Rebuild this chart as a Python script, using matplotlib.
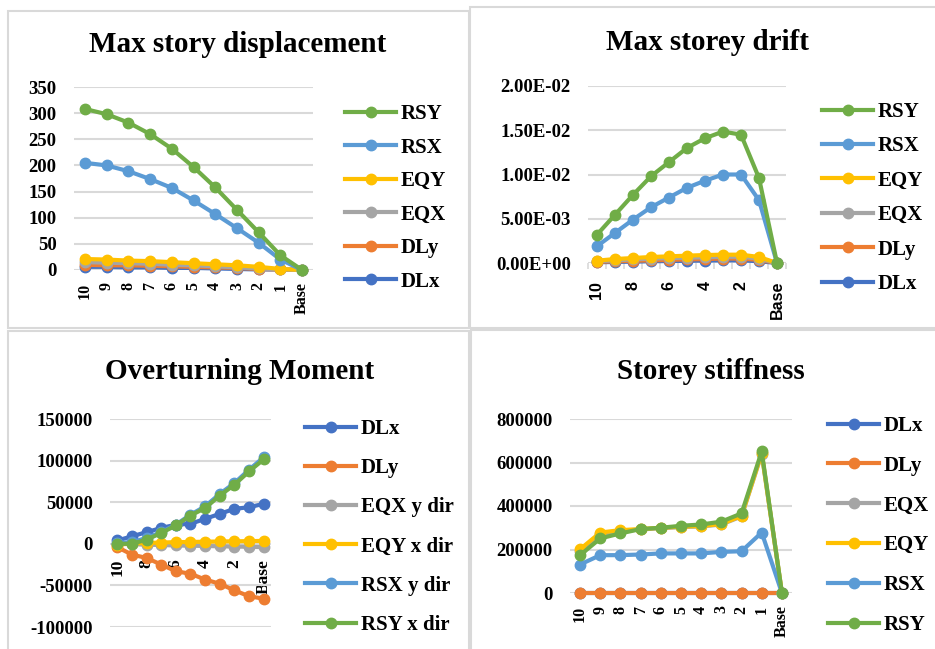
import matplotlib
matplotlib.use("Agg")
import matplotlib.pyplot as plt
from matplotlib.lines import Line2D
from matplotlib.patches import Rectangle
from matplotlib.ticker import FuncFormatter

plt.rcParams['font.family'] = ['Liberation Serif', 'DejaVu Serif']
plt.rcParams['font.weight'] = 'bold'
plt.rcParams['axes.unicode_minus'] = False

W, H = 935, 649

# storeys, top to base
cats = ['10', '9', '8', '7', '6', '5', '4', '3', '2', '1', 'Base']

# Max story displacement
disp_rsy = [308, 298, 282, 260, 232, 197, 158, 115, 72, 28, 0]
disp_rsx = [205, 200, 189, 174, 157, 133, 107, 80, 52, 20, 0]
disp_eqy = [21, 20, 18, 17, 15, 13, 11, 9, 6, 2, 0]
disp_eqx = [15, 14, 13, 12, 10, 9, 7, 5, 3, 1, 0]
disp_dly = [10, 9, 9, 8, 7, 6, 5, 4, 2, 1, 0]
disp_dlx = [6, 6, 5, 5, 4, 4, 3, 2, 1, 1, 0]

# Max storey drift
drift_rsy = [0.0032, 0.00545, 0.0077, 0.0098, 0.0114, 0.0130, 0.0141, 0.01485, 0.0145, 0.0096, 0]
drift_rsx = [0.0019, 0.0034, 0.0049, 0.0063, 0.0074, 0.0085, 0.0093, 0.0100, 0.0100, 0.0071, 0]
drift_eqy = [0.00026, 0.00045, 0.00056, 0.00068, 0.00075, 0.00083, 0.0009, 0.00094, 0.00094, 0.00068, 0]
drift_eqx = [0.0002, 0.0003, 0.0004, 0.0005, 0.00055, 0.0006, 0.00065, 0.0007, 0.0007, 0.0005, 0]
drift_dly = [0.00012, 0.0002, 0.00025, 0.0003, 0.00035, 0.0004, 0.00045, 0.0005, 0.0005, 0.00035, 0]
drift_dlx = [0.00008, 0.00012, 0.00015, 0.0002, 0.00022, 0.00025, 0.00028, 0.0003, 0.0003, 0.0002, 0]

# Overturning moment
ot_dlx = [4000, 9000, 14000, 19000, 23000, 24000, 30000, 36000, 42000, 44000, 48000]
ot_dly = [-4000, -13000, -17000, -25000, -33000, -36000, -43000, -48000, -56000, -63000, -66000]
ot_eqx = [0, -500, -1000, -1500, -2000, -2300, -2600, -3000, -3300, -3600, -4000]
ot_eqy = [-1000, 500, 1000, 1500, 2000, 2200, 2500, 2800, 3000, 3200, 3500]
ot_rsx = [1000, 2000, 7000, 14000, 23000, 35000, 45000, 60000, 73000, 89000, 104000]
ot_rsy = [0, 0, 5000, 13000, 22000, 34000, 43000, 58000, 71000, 87000, 101500]

# Storey stiffness
st_dlx = [0, 0, 0, 0, 0, 0, 0, 0, 0, 0, 0]
st_dly = [0, 0, 0, 0, 0, 0, 0, 0, 0, 0, 0]
st_eqx = [195000, 270000, 285000, 292000, 298000, 303000, 306000, 315000, 352000, 640000, 0]
st_eqy = [201000, 278000, 289000, 294000, 300000, 305000, 308000, 317000, 355000, 643000, 0]
st_rsx = [131000, 174000, 174000, 177000, 182000, 182000, 182000, 189000, 192000, 278000, 0]
st_rsy = [174000, 251000, 274000, 294000, 300000, 309000, 315000, 328000, 366000, 651000, 0]

C_DLX = '#4472C4'
C_DLY = '#ED7D31'
C_EQX = '#A5A5A5'
C_EQY = '#FFC000'
C_RSX = '#5B9BD5'
C_RSY = '#70AD47'

fig = plt.figure(figsize=(W / 100, H / 100), dpi=100)

# panel frames
for x0, y0, x1, y1 in [(8, 11, 469, 328), (470, 7, 940, 328),
                       (8, 331, 469, 660), (471, 330, 940, 660)]:
    fig.add_artist(Rectangle((x0 / W, 1 - y1 / H), (x1 - x0) / W, (y1 - y0) / H,
                             transform=fig.transFigure, fill=False,
                             edgecolor='#d9d9d9', lw=1.5))


def px_axes(x0, y0, x1, y1):
    return fig.add_axes([x0 / W, 1 - y1 / H, (x1 - x0) / W, (y1 - y0) / H])


def setup(ax, ylim, yticks, title, tx, ty):
    ax.set_xlim(-0.5, len(cats) - 0.5)
    ax.set_ylim(*ylim)
    ax.set_yticks(yticks)
    for s in ax.spines.values():
        s.set_visible(False)
    ax.grid(axis='y', color='#d9d9d9', lw=1.5)
    ax.set_axisbelow(True)
    ax.tick_params(axis='y', length=0, pad=12.5, labelsize=13.5)
    ax.tick_params(axis='x', length=0)
    fig.text(tx / W, 1 - ty / H, title, ha='center', va='center',
             fontsize=21, fontweight='bold')


def draw(ax, series, lx, ly, spacing, reverse=False):
    # reverse: draw last legend entry first so the first one sits on top
    order = series[::-1] if reverse else series
    for vals, col, lab in order:
        ax.plot(range(len(cats)), vals, color=col, lw=3, marker='o',
                markersize=7.5, clip_on=False, zorder=3)
    handles = [Line2D([], [], color=c, lw=3, marker='o', markersize=7.5)
               for _, c, _ in series]
    ax.legend(handles, [s[2] for s in series], loc='upper left',
              bbox_to_anchor=(lx / W, 1 - ly / H), bbox_transform=fig.transFigure,
              frameon=False, borderpad=0, borderaxespad=0, fontsize=15,
              handlelength=2.45, handletextpad=0.22, labelspacing=spacing)


# --- Max story displacement
ax1 = px_axes(74, 87, 313, 270)
setup(ax1, (0, 350), range(0, 351, 50), 'Max story displacement', 238, 45)
ser1 = [(disp_rsy, C_RSY, 'RSY'), (disp_rsx, C_RSX, 'RSX'), (disp_eqy, C_EQY, 'EQY'),
        (disp_eqx, C_EQX, 'EQX'), (disp_dly, C_DLY, 'DLy'), (disp_dlx, C_DLX, 'DLx')]
draw(ax1, ser1, 345, 104, 0.65, reverse=True)
ax1.set_xticks(range(len(cats)))
ax1.set_xticklabels(cats, rotation=90, fontsize=11.5)
ax1.tick_params(axis='x', pad=9)

# --- Max storey drift
ax2 = px_axes(588, 86, 786, 263)
setup(ax2, (0, 0.02), [0, 0.005, 0.01, 0.015, 0.02], 'Max storey drift', 707, 43)
ax2.yaxis.set_major_formatter(FuncFormatter(lambda v, p: f'{v:.2E}'))
ser2 = [(drift_rsy, C_RSY, 'RSY'), (drift_rsx, C_RSX, 'RSX'), (drift_eqy, C_EQY, 'EQY'),
        (drift_eqx, C_EQX, 'EQX'), (drift_dly, C_DLY, 'DLy'), (drift_dlx, C_DLX, 'DLx')]
draw(ax2, ser2, 822, 102, 0.69, reverse=True)
ax2.set_xticks(range(0, len(cats), 2))
ax2.set_xticklabels(cats[::2], rotation=90, fontsize=11.5, family='Liberation Sans')
ax2.set_xticks([i - 0.5 for i in range(len(cats) + 1)], minor=True)
ax2.tick_params(axis='x', which='minor', length=4, color='#d9d9d9', width=1.2)
ax2.tick_params(axis='x', which='major', pad=13)

# --- Overturning moment
ax3 = px_axes(110, 419, 271, 627)
setup(ax3, (-100000, 150000), range(-100000, 150001, 50000), 'Overturning Moment', 240, 372)
ser3 = [(ot_dlx, C_DLX, 'DLx'), (ot_dly, C_DLY, 'DLy'), (ot_eqx, C_EQX, 'EQX y dir'),
        (ot_eqy, C_EQY, 'EQY x dir'), (ot_rsx, C_RSX, 'RSX y dir'), (ot_rsy, C_RSY, 'RSY x dir')]
draw(ax3, ser3, 305, 419, 0.92)
ax3.spines['bottom'].set_position(('data', 0))
ax3.set_xticks(range(0, len(cats), 2))
ax3.set_xticklabels(cats[::2], rotation=90, fontsize=12.5)
ax3.tick_params(axis='x', pad=11)

# --- Storey stiffness
ax4 = px_axes(570, 419, 792, 593)
setup(ax4, (0, 800000), range(0, 800001, 200000), 'Storey stiffness', 711, 372)
ser4 = [(st_dlx, C_DLX, 'DLx'), (st_dly, C_DLY, 'DLy'), (st_eqx, C_EQX, 'EQX'),
        (st_eqy, C_EQY, 'EQY'), (st_rsx, C_RSX, 'RSX'), (st_rsy, C_RSY, 'RSY')]
draw(ax4, ser4, 828, 416, 0.95)
ax4.set_xticks(range(len(cats)))
ax4.set_xticklabels(cats, rotation=90, fontsize=11.5)
ax4.tick_params(axis='x', pad=9)

fig.savefig('out.png', dpi=100)
